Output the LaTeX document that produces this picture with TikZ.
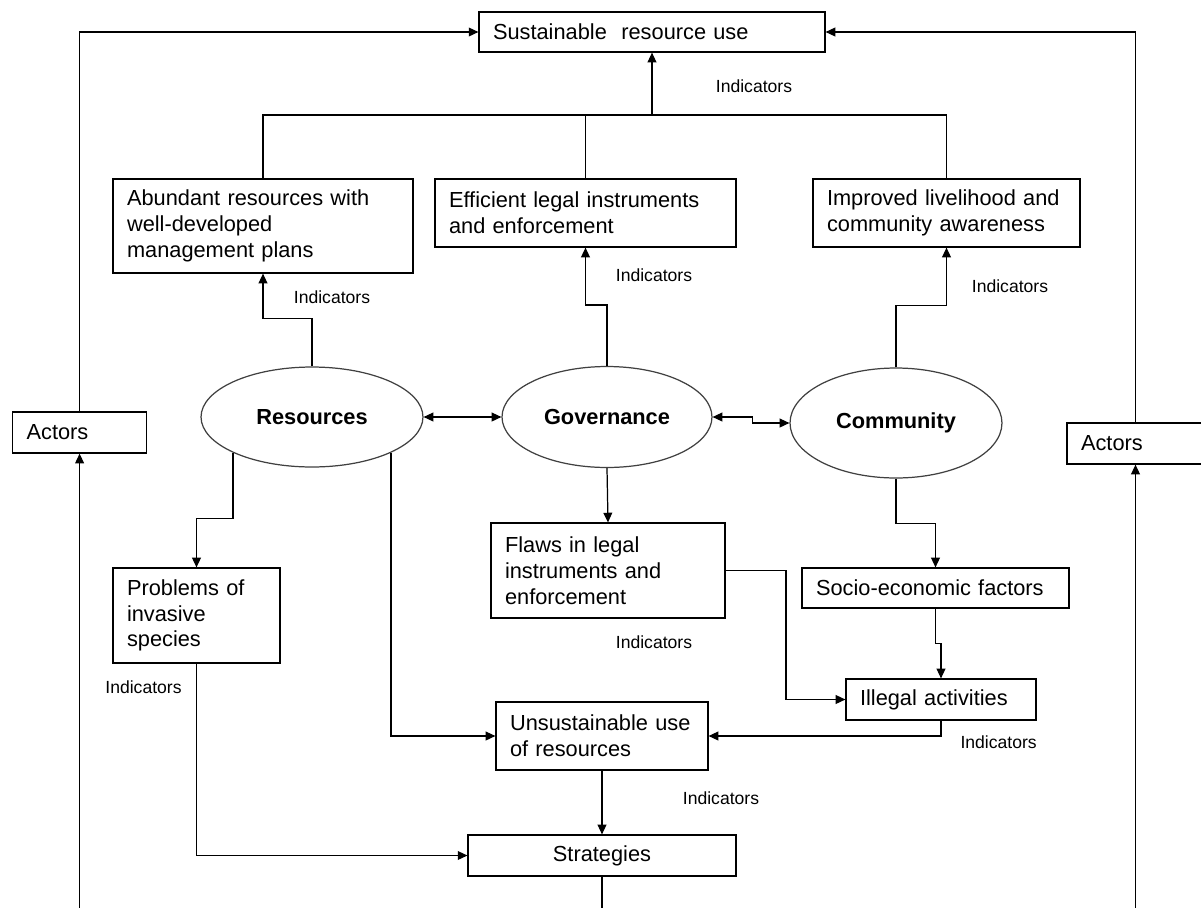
\documentclass[tikz,border=0pt]{standalone}
\usepackage{fontspec}
\setmainfont{Liberation Sans}
\usetikzlibrary{arrows.meta,shapes.geometric,positioning}

\tikzset{
  box/.style={draw, rectangle, line width=0.7pt, inner xsep=0.28cm, inner ysep=0pt,
    align=left, font=\fontsize{12.4}{14.7}\selectfont},
  hub/.style={draw=black!75, ellipse, line width=0.7pt, inner sep=0pt,
    font=\bfseries\fontsize{12.4}{14.7}\selectfont},
  ind/.style={inner sep=0pt, font=\fontsize{10}{12}\selectfont},
  link/.style={line width=0.7pt, -{Triangle[length=5.5pt,width=5pt]}},
  wire/.style={line width=0.7pt},
  both/.style={line width=0.7pt, {Triangle[length=5.5pt,width=5pt]}-{Triangle[length=5.5pt,width=5pt]}}
}

\begin{document}
\begin{tikzpicture}[x=0.02cm,y=-0.02cm]
\useasboundingbox (0,0) rectangle (1201,907);

\node[box, text width=6.36cm, minimum height=0.8cm] (sus) at (652,32) {Sustainable~ resource use};

\node[box, text width=5.44cm, minimum height=1.88cm] (abund) at (263,226)
  {Abundant resources with\\well-developed\\management plans};
\node[box, text width=5.46cm, minimum height=1.36cm] (eff) at (585.5,213)
  {Efficient legal instruments\\and enforcement};
\node[box, text width=4.78cm, minimum height=1.36cm] (impr) at (946.5,213)
  {Improved livelihood and\\community awareness};

\node[box, text width=2.12cm, minimum height=0.82cm] (actL) at (79.6,432.5) {Actors};
\node[box, text width=2.18cm, minimum height=0.82cm] (actR) at (1135.5,443.5) {Actors};

\node[hub, minimum width=4.44cm, minimum height=2.0cm] (res) at (312,417) {Resources};
\node[hub, minimum width=4.2cm, minimum height=2.02cm] (gov) at (607,417) {Governance};
\node[hub, minimum width=4.24cm, minimum height=2.2cm] (comm) at (896,423) {Community};

\node[box, text width=2.78cm, minimum height=1.9cm] (prob) at (196.5,615.5)
  {Problems of\\invasive\\species};
\node[box, text width=4.12cm, minimum height=1.9cm] (flaws) at (608,570.5)
  {Flaws in legal\\instruments and\\enforcement};
\node[box, text width=4.78cm, minimum height=0.8cm] (socio) at (935.5,588) {Socio-economic factors};
\node[box, text width=3.24cm, minimum height=0.82cm] (illegal) at (941,699.5) {Illegal activities};
\node[box, text width=3.68cm, minimum height=1.36cm] (unsus) at (602,736)
  {Unsustainable use\\of resources};
\node[box, text width=4.8cm, minimum height=0.82cm, align=center] (strat) at (602,855.5) {Strategies};

\node[ind] (ind1) at (754,86) {Indicators};
\node[ind] (ind2) at (332,297) {Indicators};
\node[ind] (ind3) at (654,275) {Indicators};
\node[ind] (ind4) at (1010,286) {Indicators};
\node[ind] (ind5) at (143.5,687) {Indicators};
\node[ind] (ind6) at (654,642) {Indicators};
\node[ind] (ind7) at (998.6,742) {Indicators};
\node[ind] (ind8) at (721,798) {Indicators};

\coordinate (brk) at (652,115);
\coordinate (stratout) at (602,912);
\coordinate (inL) at (79.6,912);
\coordinate (inR) at (1135.5,912);

\draw[link] (actL.north) |- (sus.west);
\draw[link] (actR.north) |- (sus.east);
\draw[wire] (abund.north) |- (brk) -| (impr.north);
\draw[wire] (eff.north) -- (eff.north |- brk);
\draw[link] (brk) -- (sus.south);

\draw[link] (res.north) -- ++(0,-48) -| (abund.south);
\draw[link] (gov.north) -- ++(0,-61) -| (eff.south);
\draw[link] (comm.north) -- ++(0,-62) -| (impr.south);

\draw[both] (res.east) -- (gov.west);
\draw[both] (gov.east) -- ++(40,0) |- (comm.west);

\draw[link] (res.south west) -- ++(0,66) -| (prob.north);
\draw[link] (res.south east) |- (unsus.west);
\draw[link] (gov.south) -- (flaws.north);
\draw[link] (comm.south) -- ++(0,45) -| (socio.north);
\draw[link] (flaws.east) -- ++(60.5,0) |- (illegal.west);
\draw[link] (socio.south) -- ++(0,35) -| (illegal.north);
\draw[link] (illegal.south) |- (unsus.east);
\draw[link] (unsus.south) -- (strat.north);
\draw[link] (prob.south) |- (strat.west);
\draw[wire] (strat.south) -- (stratout);
\draw[link] (inL) -- (actL.south);
\draw[link] (inR) -- (actR.south);
\end{tikzpicture}
\end{document}
